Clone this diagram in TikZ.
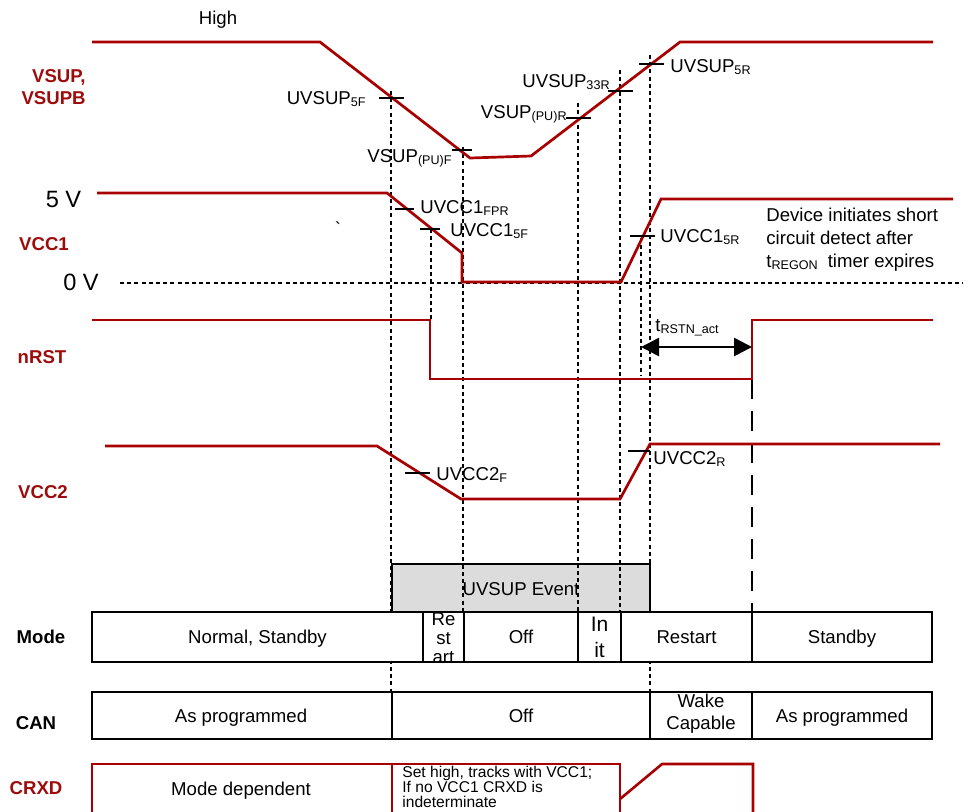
\documentclass[tikz,border=0pt]{standalone}
\usepackage{fontspec}
\setmainfont{Liberation Sans}
\usetikzlibrary{arrows.meta,positioning}
\definecolor{TDRed}{HTML}{A80000}
\definecolor{TDLabel}{HTML}{9E0B0B}
\definecolor{TDGrey}{HTML}{DCDCDC}
\newcommand{\lowsub}[1]{\raisebox{-1pt}{\fontsize{6.3}{6.3}\selectfont #1}}
\tikzset{
  wave/.style={TDRed,line width=1.35pt,line join=miter},
  guide/.style={black,line width=1.05pt,dash pattern=on 2pt off 1.6pt},
  thrtick/.style={black,line width=1.3pt},
  edgemark/.style={black,line width=1.2pt,dash pattern=on 10pt off 6pt},
  cell/.style={draw=black,line width=1.35pt,fill=white},
  redcell/.style={draw=TDRed,line width=1.3pt},
  eventbox/.style={draw=black,line width=1.2pt,fill=TDGrey},
  spanarrow/.style={{Triangle[length=9pt,width=9pt]}-{Triangle[length=9pt,width=9pt]},line width=1.3pt},
  siglabel/.style={text=TDLabel,font=\fontsize{9.3}{11}\selectfont\bfseries,inner sep=0pt},
  rowlabel/.style={text=black,font=\fontsize{9.3}{11}\selectfont\bfseries,inner sep=0pt},
  thr/.style={font=\fontsize{9.3}{11}\selectfont,inner sep=0pt},
  voltlabel/.style={font=\fontsize{11.8}{13}\selectfont,inner sep=0pt,anchor=mid},
  celltext/.style={font=\fontsize{9.3}{11}\selectfont,inner sep=0pt,anchor=mid},
  stacktext/.style={font=\fontsize{9.3}{11}\selectfont,inner sep=0pt,align=center},
  notetext/.style={font=\fontsize{7.8}{7.5}\selectfont,inner sep=0pt,align=left},
}

\begin{document}
\begin{tikzpicture}[x=0.5pt,y=-0.5pt]
  \useasboundingbox (0,0) rectangle (972,811);

  % signal names
  \node[thr,anchor=mid] (high) at (218,19) {High};
  \node[siglabel,align=right,anchor=east] (vsuplbl) at (86,87) {VSUP,\\VSUPB};
  \node[siglabel] (vcconelbl) at (44,244) {VCC1};
  \node[siglabel] (nrstlbl) at (42,357) {nRST};
  \node[siglabel] (vcctwolbl) at (43,492) {VCC2};
  \node[rowlabel] (modelbl) at (41,637) {Mode};
  \node[rowlabel] (canlbl) at (36,723) {CAN};
  \node[siglabel] (crxdlbl) at (36,788) {CRXD};
  \node[voltlabel] (fivev) at (63.5,202) {5 V};
  \node[voltlabel] (zerov) at (81,285) {0 V};
  \node[thr] (stray) at (338,229) {\textasciigrave};

  \draw[eventbox] (392,564) rectangle (650,612);
  \node[celltext] (uvsupevent) at (521,590.5) {UVSUP Event};

  % guide lines
  \draw[guide] (120,283) -- (963,283);
  \foreach \gx/\gtop/\gbot in {391/91/692,431/229/320,463/147/612,578/103/612,620/70/612,641/238/375,650/55/692}{
    \draw[guide] (\gx,\gtop) -- (\gx,\gbot);
  }
  \draw[edgemark] (752,379) -- (752,612);

  % waveforms
  \draw[wave] (92,42) -- (320,42) -- (470,158) -- (531,156) -- (680,42) -- (933,42);
  \draw[wave] (97,193) -- (387,193) -- (462,253) -- (462,282) -- (621,282) -- (661,199) -- (953,199);
  \draw[wave] (92,320) -- (430,320) -- (430,379) -- (752,379) -- (752,320) -- (933,320);
  \draw[wave] (105,446) -- (377,446) -- (461,499) -- (620,499) -- (650,444) -- (940,444);

  % thresholds
  \foreach \ta/\tb/\ty in {379/404/98,452/472/150,395/414/209,420/440/229,566/591/118,608/633/91,639/664/64,630/655/236,405/430/473,628/650/451}{
    \draw[thrtick] (\ta,\ty) -- (\tb,\ty);
  }
  \node[thr,anchor=mid east] (uvsupfivef) at (366,99) {UVSUP\lowsub{5F}};
  \node[thr,anchor=mid east] (vsuppuf) at (452,157) {VSUP\lowsub{(PU)F}};
  \node[thr,anchor=mid west] (uvcconefpr) at (420,208) {UVCC1\lowsub{FPR}};
  \node[thr,anchor=mid west] (uvcconefivef) at (450,231) {UVCC1\lowsub{5F}};
  \node[thr,anchor=mid east] (vsuppur) at (567,113.5) {VSUP\lowsub{(PU)R}};
  \node[thr,anchor=mid east] (uvsupthr) at (610,82) {UVSUP\lowsub{33R}};
  \node[thr,anchor=mid west] (uvsupfiver) at (670,67) {UVSUP\lowsub{5R}};
  \node[thr,anchor=mid west] (uvcconefiver) at (660,237) {UVCC1\lowsub{5R}};
  \node[thr,anchor=mid west] (uvcctwof) at (436,475) {UVCC2\lowsub{F}};
  \node[thr,anchor=mid west] (uvcctwor) at (653,459) {UVCC2\lowsub{R}};

  \node[thr,align=left,anchor=west,font=\fontsize{9.3}{11.5}\selectfont] (scnote) at (766,240)
    {Device initiates short\\circuit detect after\\t\lowsub{REGON}\hspace{5pt}timer expires};

  \coordinate (rstnstart) at (641,347);
  \coordinate (rstnend) at (752,347);
  \draw[spanarrow] (rstnstart) -- (rstnend);
  \node[thr,anchor=base west] (trstn) at (655,331) {t\lowsub{RSTN\_act}};

  % mode row
  \draw[cell] (92,612) rectangle (423,662);
  \draw[cell] (423,612) rectangle (464,662);
  \draw[cell] (464,612) rectangle (578,662);
  \draw[cell] (578,612) rectangle (621,662);
  \draw[cell] (621,612) rectangle (752,662);
  \draw[cell] (752,612) rectangle (932,662);
  \node[celltext] (mnormal) at (257.5,638.5) {Normal, Standby};
  \begin{scope}
    \clip (423,613) rectangle (464,661);
    \node[stacktext,font=\fontsize{9.3}{9.5}\selectfont] (mrestarta) at (443.5,638.5) {Re\\st\\art};
  \end{scope}
  \node[celltext] (moff) at (521,638.5) {Off};
  \node[stacktext,font=\fontsize{10.5}{13}\selectfont] (minit) at (599.5,637) {In\\it};
  \node[celltext] (mrestartb) at (686.5,638.5) {Restart};
  \node[celltext] (mstandby) at (842,638.5) {Standby};

  % CAN row
  \draw[cell] (92,692) rectangle (392,739);
  \draw[cell] (392,692) rectangle (650,739);
  \draw[cell] (650,692) rectangle (752,739);
  \draw[cell] (752,692) rectangle (932,739);
  \node[celltext] (cprog) at (241,717) {As programmed};
  \node[celltext] (coff) at (521,717) {Off};
  \node[stacktext] (cwake) at (701,714) {Wake\\Capable};
  \node[celltext] (cprogb) at (842,717) {As programmed};

  % CRXD row
  \draw[redcell] (92,813) -- (92,764) -- (620,764) -- (620,813);
  \draw[redcell] (392,764) -- (392,813);
  \draw[redcell] (620,799) -- (662,764) -- (753,764) -- (753,813);
  \node[celltext] (rmode) at (241,790) {Mode dependent};
  \node[notetext,anchor=west] (rhigh) at (402,787)
    {Set high, tracks with VCC1;\\If no VCC1 CRXD is\\indeterminate};
\end{tikzpicture}
\end{document}
